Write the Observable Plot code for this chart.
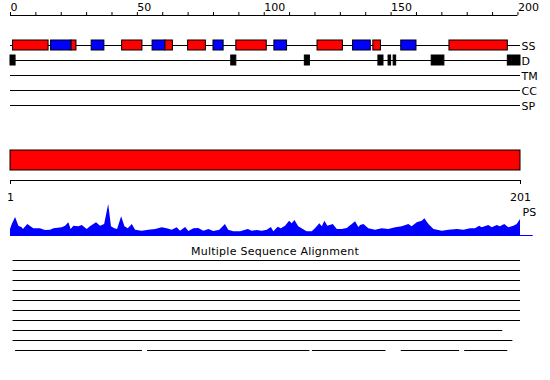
<!DOCTYPE html>
<html><head><meta charset="utf-8">
<script src="https://cdn.jsdelivr.net/npm/d3@7"></script>
<script src="https://cdn.jsdelivr.net/npm/@observablehq/plot@0.6"></script>
<style>
html,body{margin:0;padding:0;background:#fff;}
#chart{position:relative;width:550px;height:380px;overflow:hidden;font-family:"DejaVu Sans",sans-serif;background:#fff;}
#chart svg{position:absolute;left:0;}
.title{position:absolute;left:0;top:245px;width:550px;text-align:center;font-size:11px;line-height:13px;letter-spacing:0.25px;color:#000;}
</style></head><body><div id="chart"></div>
<script>
// ---- data ----
const seqLength = 201;
const rulerTicks = [0,10,20,30,40,50,60,70,80,90,100,110,120,130,140,150,160,170,180,190,200];
const rulerLabels = [0,50,100,150,200];
const tracks = ["SS","D","TM","CC","SP"];
// secondary structure: helix (red) and strand (blue) segments [start, end]
const helixSegs = [[1,15],[24,26],[44,52],[61,64],[70,77],[89,101],[121,131],[143,146],[173,196]];
const strandSegs = [[16,24],[32,37],[56,61],[80,84],[104,109],[135,142],[154,160]];
// disorder segments
const disorderSegs = [[0,2],[87,89],[116,118],[145,147],[149,150],[151,152],[166,171],[196,201]];
const residueLabels = [1, 201];
// PS profile
const psPos = [0,0.7,2.0,3.3,4.6,5.1,6.8,9.2,11.8,13.8,15.8,17.1,20.4,21.7,23.0,23.9,25.0,26.9,28.3,30.2,31.5,33.9,35.5,37.1,38.7,39.8,41.1,42.2,43.8,45.1,46.4,48.0,49.3,51.9,54.5,57.2,59.8,61.8,63.7,65.7,67.0,69.0,70.3,72.3,74.2,76.2,78.2,80.1,82.5,84.7,86.0,88.0,90.7,93.7,95.3,97.2,99.2,101.2,102.8,103.8,105.5,106.7,108.4,110.0,111.0,112.1,113.6,115.4,116.9,118.9,120.2,121.9,122.9,123.9,125.1,127.2,128.8,130.7,132.7,134.7,136.0,137.3,138.0,139.3,141.2,143.9,146.5,149.1,151.8,154.4,157.0,158.3,160.3,162.3,163.3,164.9,166.9,170.2,172.8,176.1,178.7,181.3,183.3,184.9,185.9,188.5,189.9,191.8,193.1,194.8,196.4,198.4,199.7,201];
const psScore = [6,11,18,9.3,7.7,6,11,6.7,6.7,5,5.3,6.7,7.7,9.3,12.7,6,9.3,8.7,10,6,8.7,12.7,9.3,11,31,8.7,6.7,6,18.7,8.7,6.7,11,5.3,4.3,5.3,6,7.7,6.7,5.3,7.7,4.3,8,4,6.7,7,4.3,6,4,5.3,11,5.3,3.7,3.7,6,4.3,5,4.3,5.3,8,3.7,8.3,6.7,9.3,14.3,11.7,15,8.7,6,3.7,3.7,6.7,11.7,8.7,14.3,9.3,11,6,6,7,11,13.7,8,10,11,6.7,5.3,6.7,6,7.7,8.7,11,8.7,12.7,14.3,16.7,11,6,4.3,5.3,6,5.3,6.7,6.7,9.3,7.7,10,7.7,10,8.7,11,7.7,9.3,11,16];
const psBaselineEnd = 206;
// multiple sequence alignment rows: [row, start, end]
const msaTitle = "Multiple Sequence Alignment";
const msaSegments = [[1,1,201],[2,1,201],[3,1,201],[4,1,201],[5,1,201],[6,1,201],[7,1,201],[8,1,194],[9,1,198],
  [10,2,52],[10,54,118],[10,119,148],[10,154,177],[10,179,196]];

// ---- derived tables ----
const toSeg = ([start, end]) => ({start, end});
const helix = helixSegs.map(toSeg);
const strand = strandSegs.map(toSeg);
const disorder = disorderSegs.map(toSeg);
const ps = psPos.map((pos, i) => ({pos, score: psScore[i]}));
const msa = msaSegments.map(([row, start, end]) => ({row, start, end}));
// row index of each track in the top panel (0 = ruler, 1 = spacer)
const rowOf = name => name === "ruler" ? 0 : tracks.indexOf(name) + 2;

const common = {
  width: 550, marginLeft: 10, marginRight: 30, marginTop: 0, marginBottom: 0,
  x: {domain: [0, seqLength], axis: null},
  style: {fontFamily: "DejaVu Sans, sans-serif", fontSize: "11px", background: "none", overflow: "visible", color: "black"}
};

const chart = document.getElementById("chart");
function place(svg, top) { svg.style.top = top + "px"; chart.appendChild(svg); }

// tracks + ruler
place(Plot.plot({
  ...common, height: 115,
  y: {domain: [0, tracks.length + 1], range: [15, 105], axis: null},
  marks: [
    Plot.ruleY([rowOf("ruler")], {x1: 0, x2: rulerTicks[rulerTicks.length - 1], stroke: "black"}),
    Plot.ruleX(rulerTicks, {x: d => d, y1: () => rowOf("ruler"), y2: () => rowOf("ruler"), insetTop: -3, stroke: "black"}),
    Plot.text(rulerLabels, {x: d => d, y: () => rowOf("ruler"), text: d => String(d), textAnchor: "start", lineAnchor: "bottom", dy: -5, fill: "black"}),
    Plot.ruleY(tracks, {y: rowOf, x1: 0, x2: seqLength, stroke: "black"}),
    Plot.rect(helix, {x1: "start", x2: "end", y1: () => rowOf("SS"), y2: () => rowOf("SS"), fill: "#ff0000", stroke: "black", insetTop: -5, insetBottom: -5}),
    Plot.rect(strand, {x1: "start", x2: "end", y1: () => rowOf("SS"), y2: () => rowOf("SS"), fill: "#0000ff", stroke: "black", insetTop: -5, insetBottom: -5}),
    Plot.rect(disorder, {x1: "start", x2: "end", y1: () => rowOf("D"), y2: () => rowOf("D"), fill: "black", stroke: "black", insetTop: -5, insetBottom: -5}),
    Plot.text(tracks, {x: seqLength, y: rowOf, text: d => d, textAnchor: "start", lineAnchor: "middle", dx: 1, dy: 1, fill: "black"})
  ]
}), 0);

// red bar + residue axis
place(Plot.plot({
  ...common, height: 65,
  y: {domain: [0, 1], range: [20, 40], axis: null},
  marks: [
    Plot.rect([seqLength], {x1: 0, x2: d => d, y1: 0, y2: 0, fill: "#ff0000", stroke: "black", insetTop: -10, insetBottom: -10}),
    Plot.ruleY([1], {x1: 0, x2: seqLength, stroke: "black"}),
    Plot.ruleX(residueLabels, {x: (d, i) => i === 0 ? d - 1 : d, y1: 1, y2: 1, insetBottom: -4, stroke: "black"}),
    Plot.text(residueLabels, {x: (d, i) => i === 0 ? d - 1 : d, y: 1, text: d => String(d), textAnchor: "middle", lineAnchor: "bottom", dy: 20, fill: "black"})
  ]
}), 140);

// PS profile
place(Plot.plot({
  ...common, height: 50,
  y: {domain: [0, 31], range: [45, 14], axis: null},
  marks: [
    Plot.areaY(ps, {x: "pos", y: "score", fill: "#0000ff"}),
    Plot.ruleY([0], {x1: 0, x2: psBaselineEnd, stroke: "#0000ff"}),
    Plot.text(["PS"], {frameAnchor: "top-right", textAnchor: "start", lineAnchor: "bottom", dx: 2, dy: 25, fill: "black"})
  ]
}), 190);

// MSA
const t = document.createElement("div");
t.className = "title"; t.textContent = msaTitle; chart.appendChild(t);
place(Plot.plot({
  ...common, height: 140,
  y: {domain: [1, 10], range: [20, 110], axis: null},
  marks: [
    Plot.ruleY(msa, {y: "row", x1: "start", x2: "end", stroke: "black"})
  ]
}), 240);
</script></body></html>
